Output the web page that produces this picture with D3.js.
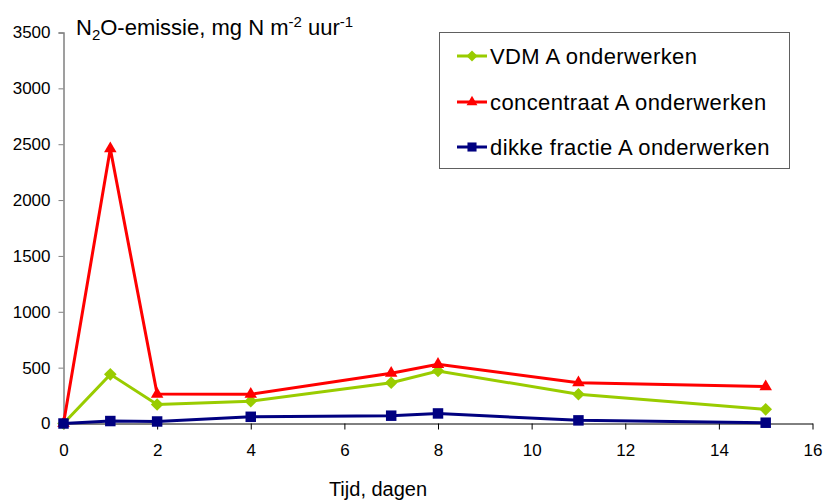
<!DOCTYPE html>
<html>
<head>
<meta charset="utf-8">
<script src="https://cdn.jsdelivr.net/npm/d3@7"></script>
<style>
  html, body { margin: 0; padding: 0; background: #fff; }
  svg { display: block; font-family: "Liberation Sans", Arial, sans-serif; }
</style>
</head>
<body>
<svg id="chart" width="823" height="500"></svg>
<script>
// Days after application
const days = [0, 1, 2, 4, 7, 8, 11, 15];

// N2O emission per treatment (mg N m-2 uur-1)
const seriesNames = ["VDM A onderwerken", "concentraat A onderwerken", "dikke fractie A onderwerken"];
const vdm = [0, 440, 170, 200, 365, 470, 262, 127];
const concentraat = [0, 2460, 263, 262, 450, 530, 365, 330];
const dikkeFractie = [0, 22, 18, 60, 70, 90, 28, 7];

const xTicks = [0, 2, 4, 6, 8, 10, 12, 14, 16];
const yTicks = [0, 500, 1000, 1500, 2000, 2500, 3000, 3500];

const colors = ["#99CC00", "#FF0000", "#000080"];

// Square rhombus marker (equal width and height)
const rhombus = {
  draw(context, size) {
    const r = Math.sqrt(size / 2);
    context.moveTo(0, -r);
    context.lineTo(r, 0);
    context.lineTo(0, r);
    context.lineTo(-r, 0);
    context.closePath();
  }
};
const symbols = [rhombus, d3.symbolTriangle, d3.symbolSquare];
const symbolSizes = [80, 68, 110];

const svg = d3.select("#chart");

const x = d3.scaleLinear().domain([0, 16]).range([63.5, 812.5]);
const y = d3.scaleLinear().domain([0, 3500]).range([423.5, 32.5]);

// Y axis (grey line, ticks outward)
const yAxis = svg.append("g")
  .attr("transform", `translate(${x(0)},0)`)
  .call(d3.axisLeft(y).tickValues(yTicks).tickSize(5).tickPadding(8).tickFormat(d3.format("d")));
yAxis.select(".domain").attr("stroke", "#808080").attr("stroke-width", 1.5);
yAxis.selectAll(".tick line").attr("stroke", "#808080");
yAxis.selectAll("text").attr("font-size", 17).attr("fill", "#000")
  .attr("font-family", "Liberation Sans, Arial, sans-serif");

// X axis (black line, ticks downward)
const xAxis = svg.append("g")
  .attr("transform", `translate(0,${y(0)})`)
  .call(d3.axisBottom(x).tickValues(xTicks).tickSize(6).tickPadding(14).tickSizeOuter(0));
xAxis.select(".domain").attr("stroke", "#000").attr("stroke-width", 1);
xAxis.selectAll(".tick line").attr("stroke", "#000");
xAxis.selectAll("text").attr("font-size", 17).attr("fill", "#000")
  .attr("font-family", "Liberation Sans, Arial, sans-serif");

// Axis titles
const title = svg.append("text")
  .attr("x", 76).attr("y", 35)
  .attr("font-size", 22).attr("fill", "#000");
title.append("tspan").text("N");
title.append("tspan").attr("font-size", 15).attr("dy", 5).text("2");
title.append("tspan").attr("dy", -5).text("O-emissie, mg N m");
title.append("tspan").attr("font-size", 15).attr("dy", -8).text("-2");
title.append("tspan").attr("dy", 8).text(" uur");
title.append("tspan").attr("font-size", 15).attr("dy", -8).text("-1");

svg.append("text")
  .attr("x", 378).attr("y", 496)
  .attr("text-anchor", "middle")
  .attr("font-size", 20).attr("fill", "#000")
  .text("Tijd, dagen");

// Lines and markers
const allSeries = [vdm, concentraat, dikkeFractie];
const line = d3.line().x((d, i) => x(days[i])).y(d => y(d));

allSeries.forEach((vals, s) => {
  const g = svg.append("g");
  g.append("path")
    .datum(vals)
    .attr("fill", "none")
    .attr("stroke", colors[s])
    .attr("stroke-width", 3)
    .attr("stroke-linejoin", "miter")
    .attr("d", line);
  g.selectAll("path.mark")
    .data(vals)
    .join("path")
    .attr("class", "mark")
    .attr("transform", (d, i) => `translate(${x(days[i])},${y(d)})`)
    .attr("d", d3.symbol().type(symbols[s]).size(symbolSizes[s]))
    .attr("fill", colors[s]);
});

// Legend
const legend = svg.append("g");
legend.append("rect")
  .attr("x", 439.5).attr("y", 32.5).attr("width", 350).attr("height", 136)
  .attr("fill", "#fff").attr("stroke", "#606060").attr("stroke-width", 1);
const legendY = [56, 102, 147];
seriesNames.forEach((name, s) => {
  const row = legend.append("g").attr("transform", `translate(0,${legendY[s]})`);
  row.append("line")
    .attr("x1", 457).attr("x2", 487).attr("y1", 0).attr("y2", 0)
    .attr("stroke", colors[s]).attr("stroke-width", 3);
  row.append("path")
    .attr("transform", "translate(472,0)")
    .attr("d", d3.symbol().type(symbols[s]).size(symbolSizes[s] * 0.75))
    .attr("fill", colors[s]);
  row.append("text")
    .attr("x", 490).attr("y", 8)
    .attr("font-size", 22).attr("letter-spacing", 0.4).attr("fill", "#000")
    .text(name);
});
</script>
</body>
</html>
